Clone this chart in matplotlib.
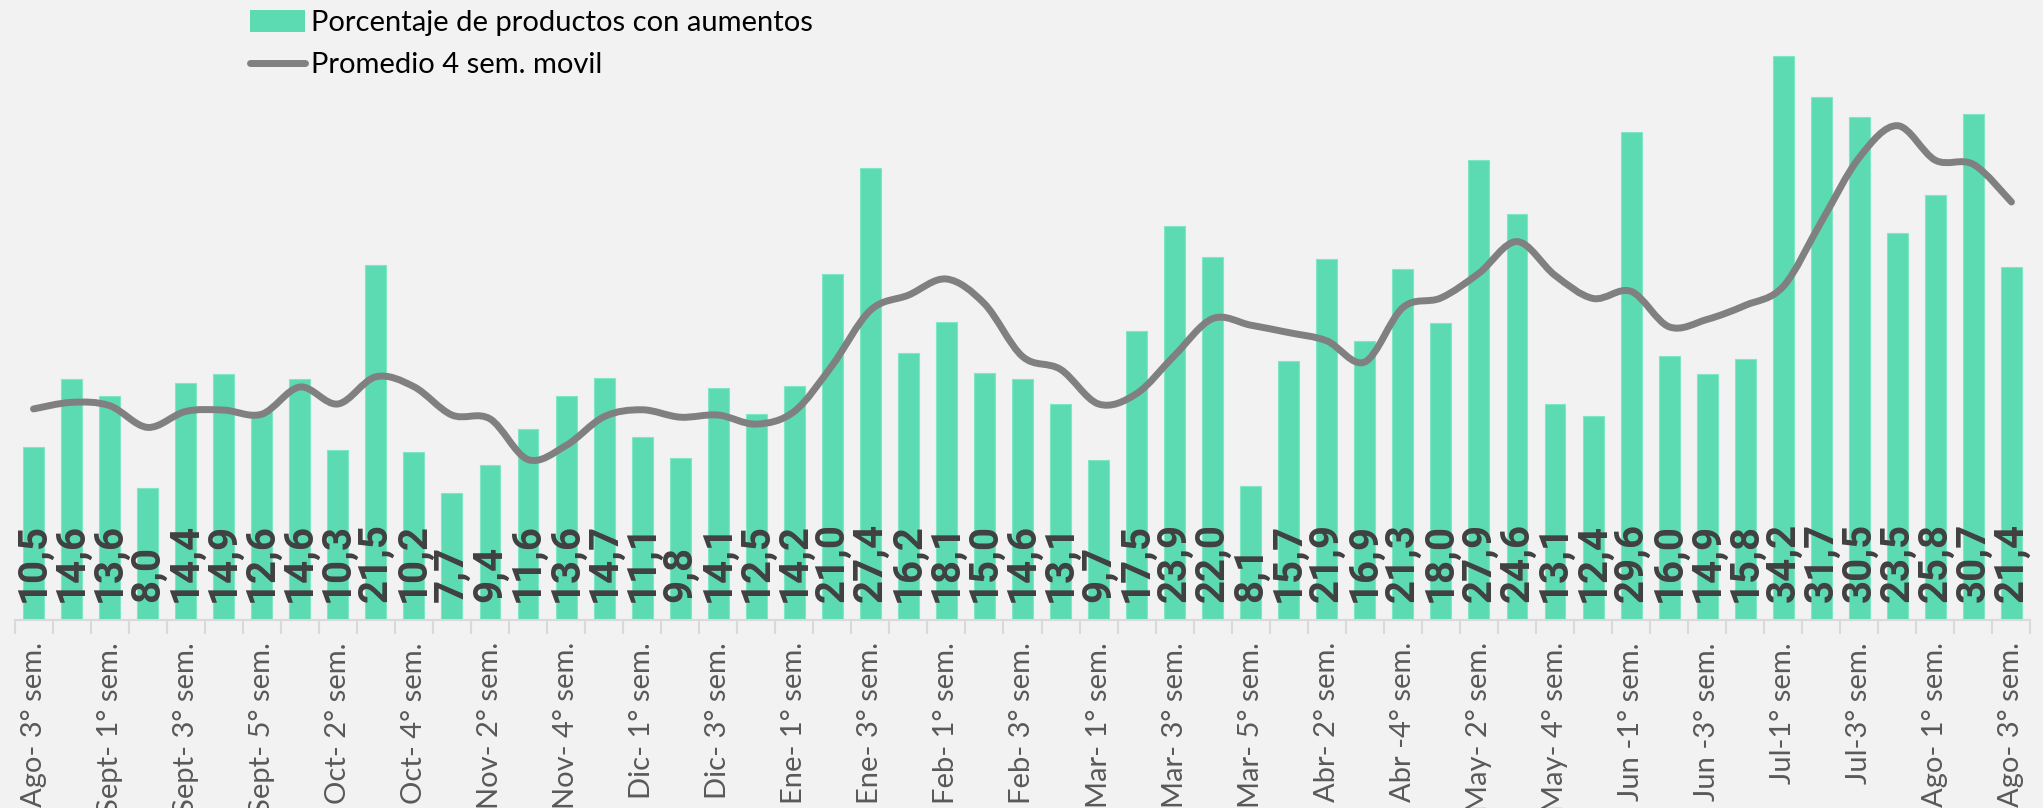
import matplotlib.pyplot as plt
from matplotlib.path import Path
from matplotlib.patches import PathPatch
from matplotlib.lines import Line2D
from matplotlib.patches import Patch

# Semanas (se muestra una de cada dos en el eje)
semanas = ["Ago- 3° sem.", "Ago- 4° sem.", "Sept- 1° sem.", "Sept- 2° sem.", "Sept- 3° sem.",
           "Sept- 4° sem.", "Sept- 5° sem.", "Oct- 1° sem.", "Oct- 2° sem.", "Oct- 3° sem.",
           "Oct- 4° sem.", "Nov- 1° sem.", "Nov- 2° sem.", "Nov- 3° sem.", "Nov- 4° sem.",
           "Nov- 5° sem.", "Dic- 1° sem.", "Dic- 2° sem.", "Dic- 3° sem.", "Dic- 4° sem.",
           "Ene- 1° sem.", "Ene- 2° sem.", "Ene- 3° sem.", "Ene- 4° sem.", "Feb- 1° sem.",
           "Feb- 2° sem.", "Feb- 3° sem.", "Feb- 4° sem.", "Mar- 1° sem.", "Mar- 2° sem.",
           "Mar- 3° sem.", "Mar- 4° sem.", "Mar- 5° sem.", "Abr- 1° sem.", "Abr- 2° sem.",
           "Abr- 3° sem.", "Abr -4° sem.", "May- 1° sem.", "May- 2° sem.", "May- 3° sem.",
           "May- 4° sem.", "May- 5° sem.", "Jun -1° sem.", "Jun -2° sem.", "Jun -3° sem.",
           "Jun -4° sem.", "Jul-1° sem.", "Jul-2° sem.", "Jul-3° sem.", "Jul-4° sem.",
           "Ago- 1° sem.", "Ago- 2° sem.", "Ago- 3° sem."]

porcentaje = [10.5, 14.6, 13.6, 8.0, 14.4, 14.9, 12.6, 14.6, 10.3, 21.5, 10.2, 7.7, 9.4,
              11.6, 13.6, 14.7, 11.1, 9.8, 14.1, 12.5, 14.2, 21.0, 27.4, 16.2, 18.1, 15.0,
              14.6, 13.1, 9.7, 17.5, 23.9, 22.0, 8.1, 15.7, 21.9, 16.9, 21.3, 18.0, 27.9,
              24.6, 13.1, 12.4, 29.6, 16.0, 14.9, 15.8, 34.2, 31.7, 30.5, 23.5, 25.8, 30.7,
              21.4]

promedio = [12.8, 13.2, 13.0, 11.68, 12.65, 12.73, 12.48, 14.13, 13.1, 14.75, 14.15, 12.43,
            12.2, 9.73, 10.58, 12.33, 12.75, 12.3, 12.43, 11.88, 12.65, 15.45, 18.78, 19.7,
            20.68, 19.18, 15.98, 15.2, 13.1, 13.73, 16.05, 18.28, 17.88, 17.43, 16.93, 15.65,
            18.95, 19.53, 21.03, 22.95, 20.9, 19.5, 19.93, 17.78, 18.23, 19.08, 20.23, 24.15,
            28.05, 29.98, 27.88, 27.63, 25.35]

VERDE = "#5CDBB3"
GRIS = "#808080"
FONDO = "#F2F2F2"

plt.rcParams['font.family'] = ['Lato', 'DejaVu Sans']

fig = plt.figure(figsize=(20.43, 8.08), dpi=100, facecolor=FONDO)
ax = fig.add_axes([14.5 / 2043, (808 - 620) / 808, 2016 / 2043, 620 / 808])
ax.set_facecolor(FONDO)

x = list(range(len(porcentaje)))
ax.bar(x, porcentaje, width=0.55, color=VERDE, edgecolor="#7FE6C6", linewidth=0.8, zorder=2)

# Linea suavizada (bezier tipo Excel)
n = len(promedio)
verts = [(x[0], promedio[0])]
codes = [Path.MOVETO]
for i in range(n - 1):
    p0 = (x[max(i - 1, 0)], promedio[max(i - 1, 0)])
    p1 = (x[i], promedio[i])
    p2 = (x[i + 1], promedio[i + 1])
    p3 = (x[min(i + 2, n - 1)], promedio[min(i + 2, n - 1)])
    c1 = (p1[0] + (p2[0] - p0[0]) / 6, p1[1] + (p2[1] - p0[1]) / 6)
    c2 = (p2[0] - (p3[0] - p1[0]) / 6, p2[1] - (p3[1] - p1[1]) / 6)
    verts += [c1, c2, p2]
    codes += [Path.CURVE4] * 3
ax.add_patch(PathPatch(Path(verts, codes), facecolor="none", edgecolor=GRIS,
                       linewidth=5, capstyle="round", joinstyle="round", zorder=3))

# Etiquetas de valor dentro de las barras
for i, v in enumerate(porcentaje):
    ax.text(i, 1.1, f"{v:.1f}".replace(".", ","), rotation=90, ha="center", va="bottom",
            fontsize=29, fontweight="bold", color="#404040", family=["Roboto", "DejaVu Sans"],
            zorder=4)

ax.set_xlim(-0.5, len(porcentaje) - 0.5)
ax.set_ylim(0, 37.6)
ax.set_yticks([])
for s in ["top", "right", "left"]:
    ax.spines[s].set_visible(False)
ax.spines["bottom"].set_color("#D9D9D9")
ax.spines["bottom"].set_linewidth(1.5)

ax.set_xticks(x[::2])
ax.set_xticklabels(semanas[::2], rotation=90, fontsize=21, color="#595959")
ax.tick_params(axis="x", which="major", length=0, pad=16)
ax.set_xticks([i - 0.5 for i in range(len(porcentaje) + 1)], minor=True)
ax.tick_params(axis="x", which="minor", length=10, width=1.5, color="#D9D9D9")

handles = [Patch(facecolor=VERDE, label="Porcentaje de productos con aumentos"),
           Line2D([0], [0], color=GRIS, linewidth=5, solid_capstyle="round",
                  label="Promedio 4 sem. movil")]
fig.legend(handles=handles, loc="upper left", bbox_to_anchor=(250 / 2043, 1 - 10 / 808),
           frameon=False, fontsize=21, handlelength=1.9, handleheight=0.75,
           handletextpad=0.2, borderpad=0, borderaxespad=0, labelspacing=0.55,
           labelcolor="black")

fig.savefig("out.png", dpi=100, facecolor=FONDO)
